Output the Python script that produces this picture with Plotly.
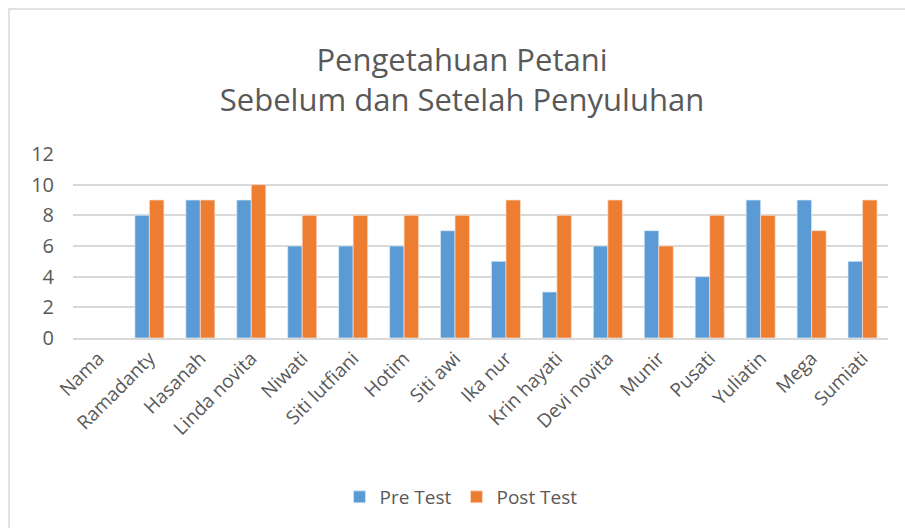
import plotly.graph_objects as go

categories = ["Nama", "Ramadanty", "Hasanah", "Linda novita", "Niwati", "Siti lutfiani",
              "Hotim", "Siti awi", "Ika nur", "Krin hayati", "Devi novita", "Munir",
              "Pusati", "Yuliatin", "Mega", "Sumiati"]
pre_test = [None, 8, 9, 9, 6, 6, 6, 7, 5, 3, 6, 7, 4, 9, 9, 5]
post_test = [None, 9, 9, 10, 8, 8, 8, 8, 9, 8, 9, 6, 8, 8, 7, 9]
y_ticks = [0, 2, 4, 6, 8, 10, 12]

FONT = "Open Sans"
GREY = "#595959"

fig = go.Figure()
fig.add_trace(go.Bar(x=categories, y=pre_test, name="Pre Test",
                     marker=dict(color="#5B9BD5", line=dict(color="#DDEBF7", width=0.7))))
fig.add_trace(go.Bar(x=categories, y=post_test, name="Post Test",
                     marker=dict(color="#ED7D31", line=dict(color="#FBE0CF", width=0.7))))

fig.update_layout(
    width=905, height=528,
    margin=dict(l=73, r=17, t=154, b=190),
    paper_bgcolor="white", plot_bgcolor="white",
    barmode="group", bargap=0.43, bargroupgap=0,
    font=dict(family=FONT, color=GREY, size=18),
    title=dict(text="Pengetahuan Petani<br>Sebelum dan Setelah Penyuluhan",
               x=462 / 905, xanchor="center", y=1 - 71 / 528, yanchor="middle",
               font=dict(family=FONT, size=31, color=GREY)),
    legend=dict(orientation="h", x=(461 - 73) / 815, xanchor="center",
                y=(338 - 497) / 184, yanchor="middle", itemwidth=30,
                font=dict(family=FONT, size=19, color=GREY)),
    showlegend=True,
    shapes=[dict(type="rect", xref="paper", yref="paper",
                 x0=(9 - 73) / 815, x1=1.05, y0=-1.2, y1=(338 - 9) / 184,
                 line=dict(color="#D9D9D9", width=1.5), layer="below")],
)
fig.update_xaxes(tickangle=-45, showgrid=False, showline=True, linecolor="#D9D9D9",
                 linewidth=1.5, ticks="", tickfont=dict(size=19, color=GREY, family=FONT))
fig.update_yaxes(range=[0, 12], tickvals=y_ticks, showgrid=True, gridcolor="#D9D9D9",
                 gridwidth=1.5, zeroline=False, ticks="", showline=False,
                 ticklabelstandoff=18,
                 tickfont=dict(size=20, color=GREY, family=FONT))

fig.write_html("out.html", config={"displayModeBar": False},
               post_script="document.body.style.margin='0';document.body.style.overflow='hidden';")
